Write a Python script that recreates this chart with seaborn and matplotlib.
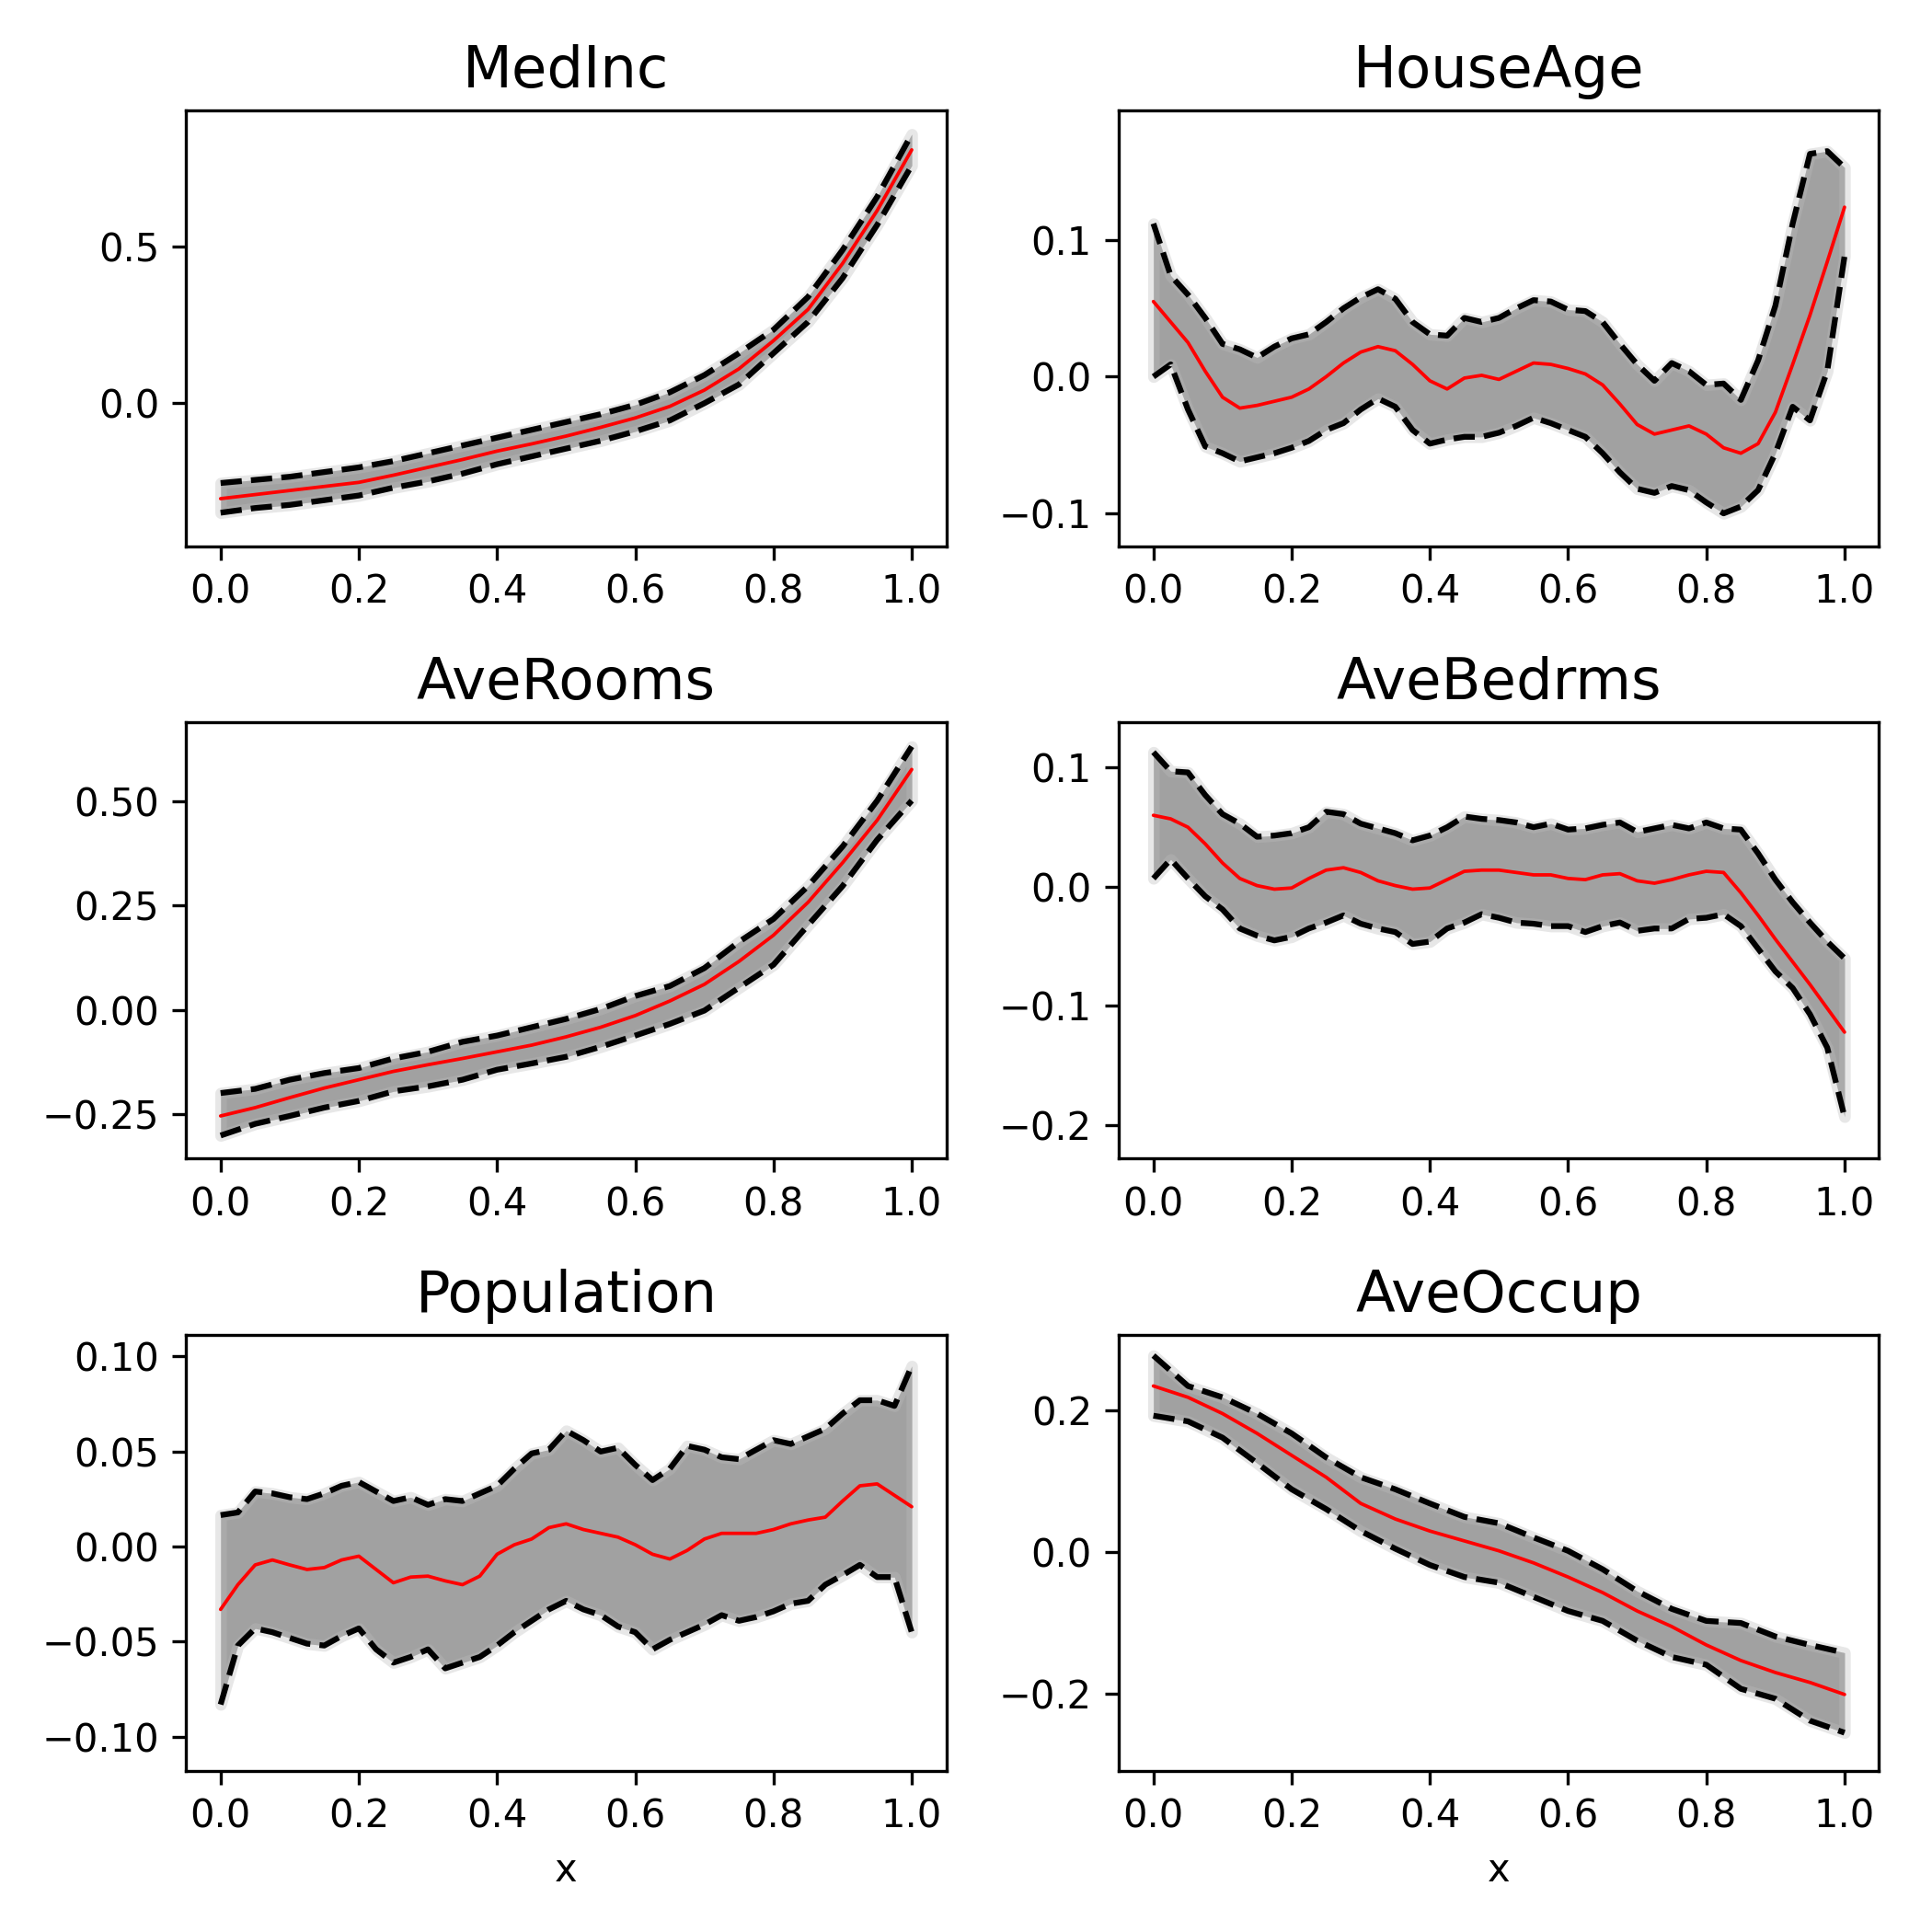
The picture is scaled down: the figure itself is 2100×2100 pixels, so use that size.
import numpy as np
import pandas as pd
import matplotlib
matplotlib.use("Agg")
import matplotlib.pyplot as plt
import seaborn as sns

# ---------------- data ----------------
titles = ["MedInc", "HouseAge", "AveRooms", "AveBedrms", "Population", "AveOccup"]

x21 = np.linspace(0, 1, 21)
x41 = np.linspace(0, 1, 41)

medinc_mean = [-0.305, -0.292, -0.279, -0.266, -0.253, -0.23, -0.205, -0.18, -0.153, -0.13, -0.105,
               -0.077, -0.047, -0.01, 0.042, 0.11, 0.20, 0.30, 0.447, 0.616, 0.81]
medinc_upper = [-0.255, -0.245, -0.235, -0.22, -0.205, -0.185, -0.16, -0.135, -0.11, -0.085, -0.06,
                -0.035, -0.005, 0.035, 0.09, 0.16, 0.235, 0.34, 0.49, 0.66, 0.86]
medinc_lower = [-0.35, -0.335, -0.325, -0.31, -0.295, -0.27, -0.25, -0.225, -0.195, -0.17, -0.145,
                -0.12, -0.09, -0.055, 0.0, 0.06, 0.16, 0.26, 0.40, 0.57, 0.76]

houseage_mean = [0.055, 0.040, 0.025, 0.004, -0.015, -0.023, -0.021, -0.018, -0.015, -0.009, 0.000,
                 0.010, 0.018, 0.022, 0.019, 0.009, -0.003, -0.009, -0.001, 0.001, -0.002,
                 0.004, 0.010, 0.009, 0.006, 0.002, -0.006, -0.020, -0.035, -0.042, -0.039,
                 -0.036, -0.042, -0.052, -0.056, -0.049, -0.026, 0.009, 0.045, 0.084, 0.124]
houseage_upper = [0.112, 0.074, 0.060, 0.043, 0.024, 0.020, 0.014, 0.022, 0.028, 0.031, 0.040,
                  0.050, 0.058, 0.064, 0.057, 0.040, 0.031, 0.030, 0.043, 0.040, 0.043,
                  0.050, 0.056, 0.055, 0.049, 0.048, 0.040, 0.024, 0.009, -0.003, 0.010,
                  0.004, -0.006, -0.005, -0.017, 0.012, 0.052, 0.112, 0.163, 0.165, 0.153]
houseage_lower = [0.000, 0.009, -0.024, -0.051, -0.056, -0.062, -0.059, -0.056, -0.052, -0.047, -0.039,
                  -0.034, -0.024, -0.016, -0.022, -0.039, -0.049, -0.046, -0.044, -0.044, -0.041,
                  -0.036, -0.030, -0.034, -0.039, -0.044, -0.056, -0.070, -0.082, -0.085, -0.080,
                  -0.083, -0.092, -0.100, -0.095, -0.083, -0.056, -0.022, -0.032, 0.004, 0.088]

averooms_mean = [-0.255, -0.235, -0.211, -0.188, -0.168, -0.148, -0.132, -0.117, -0.101, -0.085, -0.065,
                 -0.042, -0.014, 0.021, 0.061, 0.116, 0.179, 0.258, 0.353, 0.455, 0.577]
averooms_upper = [-0.200, -0.190, -0.168, -0.152, -0.140, -0.117, -0.101, -0.077, -0.062, -0.042, -0.022,
                  0.002, 0.033, 0.057, 0.100, 0.163, 0.218, 0.297, 0.392, 0.502, 0.632]
averooms_lower = [-0.302, -0.274, -0.255, -0.235, -0.219, -0.196, -0.184, -0.168, -0.144, -0.129, -0.113,
                  -0.089, -0.062, -0.034, -0.002, 0.053, 0.108, 0.203, 0.297, 0.408, 0.502]

avebedrms_mean = [0.060, 0.057, 0.050, 0.036, 0.020, 0.007, 0.001, -0.002, -0.001, 0.007, 0.014,
                  0.016, 0.012, 0.005, 0.001, -0.002, -0.001, 0.006, 0.013, 0.014, 0.014,
                  0.012, 0.010, 0.010, 0.007, 0.006, 0.010, 0.011, 0.005, 0.003, 0.006,
                  0.010, 0.013, 0.012, -0.005, -0.024, -0.044, -0.063, -0.082, -0.102, -0.122]
avebedrms_upper = [0.113, 0.097, 0.096, 0.077, 0.061, 0.053, 0.042, 0.043, 0.045, 0.050, 0.063,
                   0.061, 0.053, 0.049, 0.045, 0.039, 0.043, 0.050, 0.059, 0.057, 0.056,
                   0.054, 0.050, 0.053, 0.048, 0.049, 0.052, 0.054, 0.046, 0.049, 0.052,
                   0.049, 0.054, 0.049, 0.048, 0.028, 0.006, -0.013, -0.030, -0.046, -0.060]
avebedrms_lower = [0.007, 0.023, 0.007, -0.008, -0.019, -0.035, -0.041, -0.045, -0.042, -0.035, -0.030,
                   -0.024, -0.031, -0.035, -0.038, -0.048, -0.046, -0.035, -0.030, -0.023, -0.026,
                   -0.030, -0.031, -0.033, -0.033, -0.038, -0.033, -0.030, -0.037, -0.035, -0.035,
                   -0.027, -0.026, -0.023, -0.033, -0.052, -0.071, -0.085, -0.107, -0.135, -0.193]

population_mean = [-0.033, -0.020, -0.0096, -0.007, -0.0096, -0.012, -0.011, -0.007, -0.005, -0.012, -0.019,
                   -0.016, -0.0155, -0.018, -0.020, -0.0155, -0.004, 0.001, 0.004, 0.010, 0.012,
                   0.009, 0.007, 0.005, 0.001, -0.004, -0.0065, -0.002, 0.004, 0.007, 0.007,
                   0.007, 0.009, 0.012, 0.014, 0.0155, 0.024, 0.032, 0.033, 0.027, 0.021]
population_upper = [0.0166, 0.018, 0.029, 0.028, 0.026, 0.025, 0.028, 0.032, 0.034, 0.029, 0.024,
                    0.026, 0.022, 0.025, 0.024, 0.028, 0.032, 0.041, 0.049, 0.051, 0.061,
                    0.056, 0.050, 0.052, 0.043, 0.035, 0.041, 0.053, 0.051, 0.047, 0.046,
                    0.051, 0.056, 0.054, 0.058, 0.062, 0.070, 0.077, 0.077, 0.074, 0.095]
population_lower = [-0.083, -0.052, -0.043, -0.045, -0.048, -0.051, -0.052, -0.047, -0.043, -0.054, -0.061,
                    -0.058, -0.054, -0.064, -0.061, -0.058, -0.052, -0.045, -0.039, -0.033, -0.0285,
                    -0.033, -0.036, -0.042, -0.045, -0.054, -0.049, -0.045, -0.041, -0.036, -0.039,
                    -0.037, -0.034, -0.030, -0.0285, -0.020, -0.015, -0.0096, -0.016, -0.016, -0.045]

aveoccup_mean = [0.235, 0.219, 0.196, 0.168, 0.137, 0.106, 0.069, 0.047, 0.030, 0.016, 0.002,
                 -0.015, -0.035, -0.057, -0.083, -0.105, -0.131, -0.153, -0.170, -0.184, -0.201]
aveoccup_upper = [0.278, 0.235, 0.219, 0.196, 0.168, 0.134, 0.106, 0.089, 0.069, 0.050, 0.041,
                  0.021, 0.002, -0.024, -0.055, -0.080, -0.097, -0.100, -0.119, -0.131, -0.142]
aveoccup_lower = [0.193, 0.185, 0.162, 0.126, 0.089, 0.061, 0.030, 0.005, -0.018, -0.035, -0.043,
                  -0.063, -0.083, -0.097, -0.125, -0.148, -0.159, -0.193, -0.207, -0.238, -0.255]

y_limits = [(-0.457, 0.937), (-0.124, 0.195), (-0.357, 0.690),
            (-0.228, 0.138), (-0.1178, 0.1115), (-0.3087, 0.3076)]

panels = [
    (x21, medinc_mean, medinc_upper, medinc_lower),
    (x41, houseage_mean, houseage_upper, houseage_lower),
    (x21, averooms_mean, averooms_upper, averooms_lower),
    (x41, avebedrms_mean, avebedrms_upper, avebedrms_lower),
    (x41, population_mean, population_upper, population_lower),
    (x21, aveoccup_mean, aveoccup_upper, aveoccup_lower),
]

# ---------------- style ----------------
sns.set_style("ticks", {"axes.edgecolor": "black", "xtick.color": "black",
                        "ytick.color": "black", "text.color": "black",
                        "axes.labelcolor": "black"})
plt.rcParams["font.family"] = ["DejaVu Sans"]
plt.rcParams.update({"xtick.major.size": 3.5, "ytick.major.size": 3.5,
                     "xtick.major.width": 0.8, "ytick.major.width": 0.8,
                     "axes.linewidth": 0.8, "xtick.labelsize": 10, "ytick.labelsize": 10})

fig, axes = plt.subplots(3, 2, figsize=(7, 7), dpi=300)
fig.subplots_adjust(left=0.0963, right=0.9726, top=0.943, bottom=0.0835,
                    wspace=0.227, hspace=0.404)

for i, (ax, title, (xs, m, u, l), yl) in enumerate(zip(axes.flat, titles, panels, y_limits)):
    xs = np.asarray(xs)
    ax.fill_between(xs, l, u, color="black", alpha=0.42, linewidth=0)
    ax.fill_between(xs, l, u, color="#bbbbbb", alpha=0.35, linewidth=3)
    sns.lineplot(x=xs, y=u, ax=ax, color="black", linestyle="--", linewidth=1.5)
    sns.lineplot(x=xs, y=l, ax=ax, color="black", linestyle="--", linewidth=1.5)
    sns.lineplot(x=xs, y=m, ax=ax, color="red", linewidth=0.9)
    ax.set_title(title, fontsize=15)
    ax.set_xlim(-0.05, 1.05)
    ax.set_ylim(*yl)
    ax.set_xticks([0.0, 0.2, 0.4, 0.6, 0.8, 1.0])
    ax.set_ylabel("")
    ax.set_xlabel("x" if i >= 4 else "", fontsize=10)

axes[0, 0].set_yticks([0.0, 0.5])
axes[0, 1].set_yticks([-0.1, 0.0, 0.1])
axes[1, 0].set_yticks([-0.25, 0.0, 0.25, 0.5])
axes[1, 0].set_yticklabels(["\u22120.25", "0.00", "0.25", "0.50"])
axes[1, 1].set_yticks([-0.2, -0.1, 0.0, 0.1])
axes[2, 0].set_yticks([-0.10, -0.05, 0.0, 0.05, 0.10])
axes[2, 0].set_yticklabels(["\u22120.10", "\u22120.05", "0.00", "0.05", "0.10"])
axes[2, 1].set_yticks([-0.2, 0.0, 0.2])

fig.savefig("out.png", dpi=300)
